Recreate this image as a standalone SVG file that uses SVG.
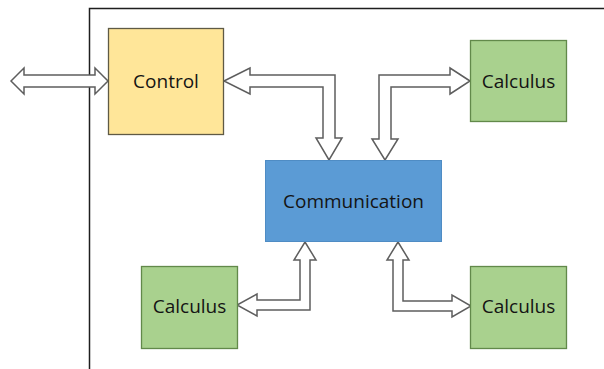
<svg xmlns="http://www.w3.org/2000/svg" width="604" height="369" viewBox="0 0 604 369">
<style>
.lbl{font-family:"Open Sans","Liberation Sans",sans-serif;font-size:19px;fill:#141414;text-anchor:middle}
.arrow{fill:#ffffff;stroke:#5e5e5e;stroke-width:1.5;stroke-linejoin:miter}
.ctrl{fill:#ffe699;stroke:#5f5a45;stroke-width:1.3}
.calc{fill:#a9d18e;stroke:#62894a;stroke-width:1.3}
.comm{fill:#5b9bd5;stroke:#4f8cc4;stroke-width:1}
</style>
<rect x="0" y="0" width="604" height="369" fill="#ffffff"/>
<path d="M89.5 369 V8.5 H604" fill="none" stroke="#1e1e1e" stroke-width="1.5"/>
<g id="connectors">
<polygon class="arrow" points="11,81 24,68 24,75 95,75 95,68 108,81 95,94 95,87 24,87 24,94"/>
<polygon class="arrow" points="224,81 250,68 250,75 335,75 335,138 342,138 329,160 316,138 323,138 323,87 250,87 250,94"/>
<polygon class="arrow" points="470,81 450,68 450,75 379,75 379,139 372,139 385,160 398,139 391,139 391,87 450,87 450,94"/>
<polygon class="arrow" points="305,242 316,260 310,260 310,310 257,310 257,316 237,305 257,294 257,300 300,300 300,260 294,260"/>
<polygon class="arrow" points="398,242 409,260 403,260 403,301 452,301 452,295 471,306 452,317 452,311 393,311 393,260 387,260"/>
</g>
<g id="control">
<rect class="ctrl" x="108.5" y="28.5" width="115" height="106"/>
<text class="lbl" x="166" y="88">Control</text>
</g>
<g id="calculus-top">
<rect class="calc" x="470.5" y="40.5" width="96" height="81"/>
<text class="lbl" x="518.5" y="88">Calculus</text>
</g>
<g id="communication">
<rect class="comm" x="265.5" y="160.5" width="176" height="81"/>
<text class="lbl" x="353.5" y="208" font-size="19.5">Communication</text>
</g>
<g id="calculus-bottom-left">
<rect class="calc" x="141.5" y="266.5" width="96" height="82"/>
<text class="lbl" x="189.5" y="313">Calculus</text>
</g>
<g id="calculus-bottom-right">
<rect class="calc" x="470.5" y="266.5" width="96" height="82"/>
<text class="lbl" x="518.5" y="313">Calculus</text>
</g>
</svg>
